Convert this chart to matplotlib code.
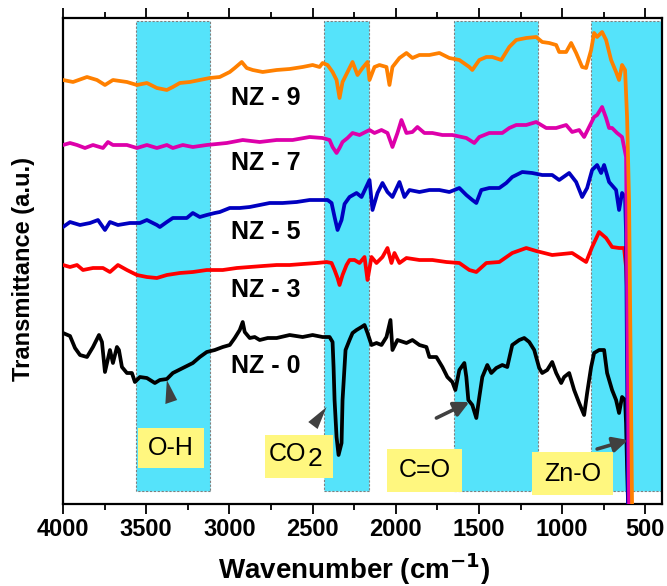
import numpy as np
import matplotlib
matplotlib.use("Agg")
import matplotlib.pyplot as plt
from matplotlib.patches import Rectangle, Polygon
from matplotlib.ticker import MultipleLocator

plt.rcParams['font.family'] = ['Liberation Sans', 'DejaVu Sans']

# ---------------- FTIR spectra (wavenumber in cm^-1, transmittance in a.u.) ----------------
w_nz0 = [4000, 3958, 3928, 3898, 3856, 3820, 3784, 3766, 3748, 3718, 3700, 3676, 3664, 3646,
         3616, 3586, 3568, 3538, 3496, 3448, 3418, 3376, 3340, 3280, 3220, 3178, 3136, 3088,
         3040, 2998, 2968, 2938, 2920, 2908, 2878, 2848, 2818, 2770, 2716, 2638, 2560, 2500,
         2440, 2398, 2380, 2374, 2368, 2356, 2344, 2326, 2320, 2302, 2278, 2260, 2236, 2206,
         2188, 2170, 2146, 2116, 2086, 2056, 2032, 2020, 1990, 1936, 1900, 1858, 1816, 1798,
         1756, 1720, 1690, 1660, 1642, 1618, 1588, 1576, 1564, 1540, 1516, 1498, 1480, 1450,
         1426, 1396, 1360, 1330, 1300, 1258, 1228, 1198, 1168, 1138, 1120, 1090, 1060, 1036,
         1006, 988, 958, 928, 898, 868, 850, 826, 808, 778, 748, 730, 700, 676, 658, 640,
         622, 616, 610, 604, 586]
t_nz0 = [171, 168, 156, 149, 147, 157, 169, 162, 132, 154, 141, 157, 154, 137,
         131, 131, 122, 127, 126, 121, 124, 125, 131, 136, 141, 147, 152, 154,
         157, 159, 166, 174, 182, 172, 166, 167, 164, 166, 166, 169, 167, 169,
         167, 167, 162, 137, 104, 67, 49, 61, 104, 154, 164, 171, 174, 177,
         179, 171, 159, 161, 159, 167, 184, 154, 164, 161, 164, 159, 157, 147,
         147, 137, 127, 122, 114, 134, 141, 127, 104, 99, 86, 107, 127, 139,
         131, 136, 139, 137, 159, 164, 166, 162, 154, 136, 131, 134, 142, 131,
         121, 127, 131, 114, 101, 89, 111, 137, 151, 154, 154, 131, 114, 104, 91, 107,
         104, 81, 37, 1, -56]

w_nz3 = [4000, 3958, 3916, 3880, 3820, 3760, 3718, 3670, 3616, 3556, 3496, 3436, 3376, 3298,
         3220, 3136, 3040, 2956, 2878, 2800, 2716, 2638, 2560, 2476, 2416, 2386, 2368, 2350,
         2338, 2320, 2296, 2278, 2248, 2218, 2188, 2170, 2146, 2116, 2080, 2050, 2026, 2008,
         1978, 1936, 1858, 1780, 1696, 1618, 1558, 1516, 1456, 1378, 1300, 1216, 1156, 1060,
         940, 856, 820, 778, 736, 700, 658, 628, 616, 610, 598, 586]
t_nz3 = [239, 237, 239, 234, 236, 236, 232, 239, 234, 229, 227, 226, 229, 231,
         232, 234, 234, 236, 237, 238, 239, 239, 240, 241, 242, 241, 234, 226,
         219, 229, 239, 244, 244, 241, 247, 224, 247, 241, 247, 256, 241, 251,
         241, 246, 244, 244, 242, 241, 234, 232, 241, 242, 251, 256, 253, 249,
         251, 242, 257, 272, 266, 257, 256, 256, 237, 214, 0, -56]

w_nz5 = [4000, 3958, 3898, 3838, 3790, 3748, 3718, 3670, 3598, 3538, 3496, 3436, 3418, 3376,
         3340, 3298, 3256, 3220, 3178, 3136, 3088, 3058, 2998, 2938, 2878, 2818, 2758, 2680,
         2596, 2518, 2458, 2410, 2386, 2368, 2350, 2326, 2308, 2278, 2236, 2206, 2158, 2140,
         2110, 2080, 2050, 2020, 1978, 1948, 1918, 1858, 1798, 1738, 1678, 1618, 1576, 1540,
         1516, 1486, 1438, 1378, 1336, 1300, 1240, 1180, 1120, 1060, 1018, 958, 916, 880,
         850, 820, 790, 766, 748, 718, 676, 658, 640, 622, 616, 604, 586]
t_nz5 = [277, 282, 279, 281, 284, 274, 282, 279, 281, 281, 284, 279, 277, 282,
         286, 286, 286, 291, 287, 289, 291, 292, 296, 296, 297, 299, 301, 301,
         302, 304, 304, 304, 301, 287, 274, 284, 300, 307, 311, 307, 324, 294,
         311, 321, 312, 307, 322, 307, 314, 312, 314, 314, 312, 316, 309, 304,
         301, 314, 316, 316, 321, 327, 332, 331, 329, 329, 324, 331, 322, 307,
         316, 334, 339, 331, 339, 322, 314, 294, 311, 307, 271, 0, -56]

w_nz7 = [4000, 3958, 3916, 3868, 3820, 3760, 3730, 3700, 3616, 3556, 3496, 3436, 3376, 3340,
         3280, 3220, 3136, 3016, 2920, 2818, 2716, 2620, 2518, 2440, 2398, 2380, 2356, 2338,
         2320, 2290, 2260, 2218, 2158, 2128, 2086, 2050, 2020, 1990, 1966, 1936, 1900, 1870,
         1828, 1780, 1720, 1660, 1576, 1528, 1498, 1438, 1360, 1318, 1276, 1216, 1156, 1096,
         1036, 976, 940, 898, 868, 838, 808, 790, 760, 736, 718, 700, 670, 640, 616, 598, 586]
t_nz7 = [359, 361, 359, 356, 359, 356, 362, 359, 359, 356, 359, 356, 359, 356,
         359, 357, 359, 361, 364, 362, 364, 364, 367, 366, 364, 357, 351, 356,
         362, 366, 371, 369, 374, 371, 374, 371, 357, 371, 384, 371, 372, 377,
         371, 371, 369, 369, 366, 361, 367, 371, 371, 376, 379, 379, 382, 376,
         376, 379, 372, 374, 367, 377, 387, 389, 397, 386, 376, 376, 371, 367, 347, 0, -56]

w_nz9 = [4000, 3940, 3856, 3796, 3748, 3700, 3616, 3556, 3496, 3436, 3376, 3340, 3298, 3238,
         3178, 3118, 3058, 2998, 2968, 2926, 2896, 2860, 2800, 2716, 2638, 2560, 2500, 2458,
         2440, 2410, 2380, 2356, 2338, 2320, 2290, 2260, 2230, 2200, 2170, 2158, 2128, 2098,
         2056, 2038, 2020, 1978, 1936, 1900, 1858, 1798, 1738, 1678, 1618, 1558, 1540, 1498,
         1456, 1420, 1366, 1318, 1276, 1216, 1156, 1120, 1078, 1036, 1018, 976, 946, 916,
         880, 856, 826, 808, 790, 760, 736, 706, 676, 658, 640, 622, 610, 598, 580, 570]
t_nz9 = [424, 422, 427, 424, 419, 424, 422, 419, 421, 416, 414, 417, 421, 422,
         424, 426, 427, 432, 436, 442, 436, 434, 432, 434, 435, 437, 439, 437,
         441, 439, 432, 424, 406, 422, 432, 442, 429, 436, 442, 424, 437, 439,
         437, 419, 437, 446, 451, 446, 449, 449, 451, 446, 444, 437, 434, 444,
         447, 447, 444, 457, 464, 466, 467, 462, 461, 459, 452, 452, 461, 451,
         437, 436, 454, 471, 467, 472, 464, 444, 432, 424, 439, 434, 387, 304, 0, -60]

series = [
    ("NZ - 0", w_nz0, t_nz0, "#000000"),
    ("NZ - 3", w_nz3, t_nz3, "#FF0000"),
    ("NZ - 5", w_nz5, t_nz5, "#0000C0"),
    ("NZ - 7", w_nz7, t_nz7, "#DD00AA"),
    ("NZ - 9", w_nz9, t_nz9, "#FF8000"),
]

# series labels: (text, left wavenumber, transmittance)
sample_labels = [("NZ - 9", 2990, 406), ("NZ - 7", 2990, 341), ("NZ - 5", 2990, 272),
                 ("NZ - 3", 2990, 214), ("NZ - 0", 2990, 138)]

# highlighted absorption bands (wavenumber ranges)
bands = [(3562, 3116), (2432, 2162), (1652, 1144), (828, 400)]

fig = plt.figure(figsize=(6.67, 5.86), dpi=100)
ax = fig.add_axes([0.0945, 0.1399, 0.898, 0.8294])

ymin, ymax = 0, 486
band_lo, band_hi = 13, 483
for a, b in bands:
    ax.add_patch(Rectangle((b, band_lo), a - b, band_hi - band_lo, facecolor="#55E3FA",
                           edgecolor="#7f7f7f", linewidth=0.8, linestyle=(0, (2, 1.5)), zorder=1))

for name, w, t, c in series:
    ax.plot(w, t, color=c, lw=2.7, solid_joinstyle="round", solid_capstyle="round", zorder=3)

for txt, x, y in sample_labels:
    ax.text(x, y, txt, fontsize=18, fontweight="bold", ha="left", va="center", zorder=5)

# band assignment boxes
def box(x0, x1, y0, y1):
    ax.add_patch(Rectangle((x1, y0), x0 - x1, y1 - y0, facecolor="#FFF77F",
                           edgecolor="none", zorder=4))

box(3550, 3154, 36, 76)
ax.text(3352, 56, "O-H", fontsize=18, ha="center", va="center", zorder=5)
box(2788, 2380, 26, 69)
ax.text(2536, 50, "CO", fontsize=18, ha="right", va="center", zorder=5)
ax.text(2532, 45, "2", fontsize=19, ha="left", va="center", zorder=5)
box(2050, 1600, 12, 55)
ax.text(1828, 34, "C=O", fontsize=18, ha="center", va="center", zorder=5)
box(1180, 694, 9, 52)
ax.text(937, 30, "Zn-O", fontsize=18, ha="center", va="center", zorder=5)

# arrow markers pointing at the bands
arrow_col = "#404040"
ax.add_patch(Polygon([(3376, 124), (3385, 100), (3314, 104)], closed=True,
                     facecolor=arrow_col, edgecolor="none", zorder=6))
ax.add_patch(Polygon([(2416, 97), (2526, 82), (2470, 75)], closed=True,
                     facecolor=arrow_col, edgecolor="none", zorder=6))
ax.annotate("", xy=(1558, 102), xytext=(1756, 86),
            arrowprops=dict(arrowstyle="-|>,head_length=0.9,head_width=0.45",
                            color=arrow_col, lw=2.6, shrinkA=0, shrinkB=0), zorder=6)
ax.annotate("", xy=(604, 64), xytext=(790, 55),
            arrowprops=dict(arrowstyle="-|>,head_length=0.9,head_width=0.45",
                            color=arrow_col, lw=2.6, shrinkA=0, shrinkB=0), zorder=6)

ax.set_xlim(4000, 400)
ax.set_ylim(ymin, ymax)
ax.set_yticks([])
ax.xaxis.set_major_locator(MultipleLocator(500))
ax.xaxis.set_minor_locator(MultipleLocator(250))
ax.tick_params(axis="x", which="major", direction="out", length=7, width=1.3,
               top=True, labelsize=17, pad=3)
ax.tick_params(axis="x", which="minor", direction="out", length=4, width=1.3, top=True)
for lab in ax.get_xticklabels():
    lab.set_fontweight("bold")
for s in ax.spines.values():
    s.set_linewidth(1.6)

fig.text(0.035, 0.541, "Transmittance (a.u.)", rotation=90, fontsize=17,
         fontweight="bold", ha="center", va="center")
fig.text(0.5315, 0.012, r"Wavenumber (cm$^{\mathbf{-1}}$)", fontsize=20,
         fontweight="bold", ha="center", va="baseline")

fig.savefig("out.png", dpi=100)
